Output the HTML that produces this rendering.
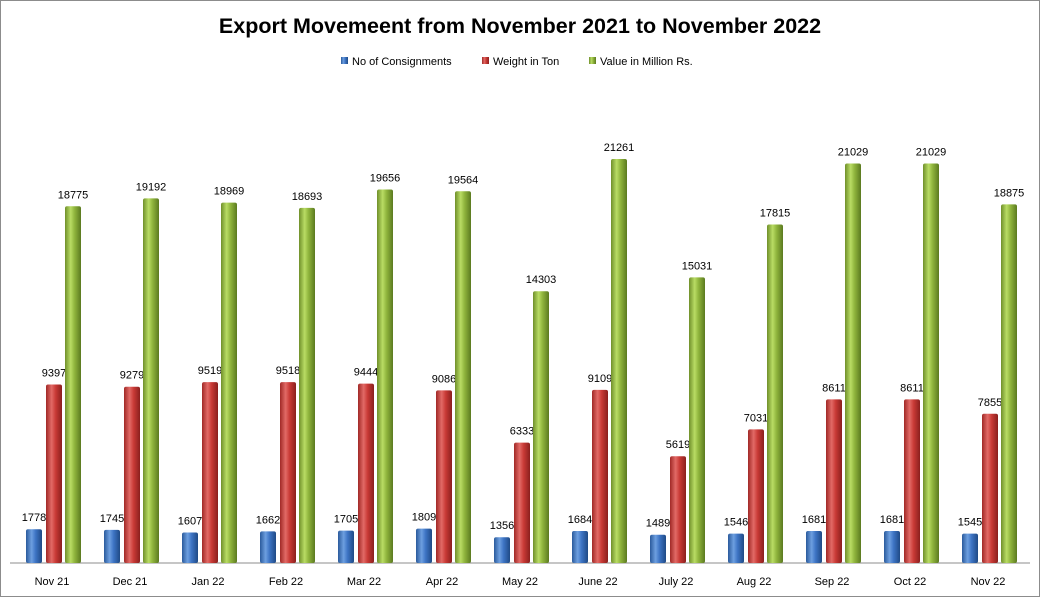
<!DOCTYPE html>
<html><head><meta charset="utf-8"><style>
body{margin:0;background:#fff;}
svg{display:block;font-family:"Liberation Sans",sans-serif;}
</style></head><body>
<svg id="c" width="1040" height="597" xmlns="http://www.w3.org/2000/svg">
<defs>
<linearGradient id="gb" x1="0" x2="1"><stop offset="0" stop-color="#2a5a9c"/><stop offset="0.35" stop-color="#6d9fe0"/><stop offset="0.6" stop-color="#3d74c4"/><stop offset="1" stop-color="#1f4a85"/></linearGradient>
<linearGradient id="gr" x1="0" x2="1"><stop offset="0" stop-color="#a02826"/><stop offset="0.35" stop-color="#e26a66"/><stop offset="0.6" stop-color="#c93a36"/><stop offset="1" stop-color="#8a1f1d"/></linearGradient>
<linearGradient id="gg" x1="0" x2="1"><stop offset="0" stop-color="#6f8f2a"/><stop offset="0.35" stop-color="#b9dc64"/><stop offset="0.6" stop-color="#8fb43c"/><stop offset="1" stop-color="#5b7a20"/></linearGradient>
</defs>
<rect x="0.5" y="0.5" width="1039" height="596" fill="#fff" stroke="#8c8c8c"/>
<text x="520" y="33" text-anchor="middle" font-size="21.5" font-weight="bold">Export Movemeent from November 2021 to November 2022</text>
<g font-size="11">
<g><rect x="341" y="57" width="7" height="7" fill="url(#gb)"/><text x="352" y="65">No of Consignments</text></g>
<g><rect x="482" y="57" width="7" height="7" fill="url(#gr)"/><text x="493" y="65">Weight in Ton</text></g>
<g><rect x="589" y="57" width="7" height="7" fill="url(#gg)"/><text x="600" y="65">Value in Million Rs.</text></g>
</g>
<line x1="10" y1="563" x2="1030" y2="563" stroke="#8c8c8c"/>
<g id="bars"></g>
</svg>
<script>
const categories=["Nov 21","Dec 21","Jan 22","Feb 22","Mar 22","Apr 22","May 22","June 22","July 22","Aug 22","Sep 22","Oct 22","Nov 22"];
const consignments=[1778,1745,1607,1662,1705,1809,1356,1684,1489,1546,1681,1681,1545];
const weight=[9397,9279,9519,9518,9444,9086,6333,9109,5619,7031,8611,8611,7855];
const value=[18775,19192,18969,18693,19656,19564,14303,21261,15031,17815,21029,21029,18875];
const NS="http://www.w3.org/2000/svg";
const g=document.getElementById('bars');
const base=563, k=0.019, x0=13, slot=78;
function y(v){return base-v*k;}
function cx(i){return x0+slot*i+slot/2;}
const series=[[consignments,"url(#gb)",-26,"bar-consignments"],[weight,"url(#gr)",-6,"bar-weight"],[value,"url(#gg)",13,"bar-value"]];
categories.forEach((c,i)=>{
  series.forEach(([arr,fill,off,nm])=>{
    const v=arr[i], bx=cx(i)+off, top=y(v);
    const r=document.createElementNS(NS,'rect');
    r.setAttribute('x',bx);r.setAttribute('y',top);r.setAttribute('width',16);r.setAttribute('height',base-top);
    r.setAttribute('fill',fill);r.setAttribute('rx',2);
    
    
    g.appendChild(r);
    const t=document.createElementNS(NS,'text');
    t.setAttribute('x',bx+8);t.setAttribute('y',top-8);t.setAttribute('text-anchor','middle');t.setAttribute('font-size','11');
    t.textContent=v;
    
    
    g.appendChild(t);
  });
  const l=document.createElementNS(NS,'text');
  l.setAttribute('x',cx(i));l.setAttribute('y',585);l.setAttribute('text-anchor','middle');l.setAttribute('font-size','11');
  l.textContent=c;
  
  
  g.appendChild(l);
});
</script>
</body></html>
